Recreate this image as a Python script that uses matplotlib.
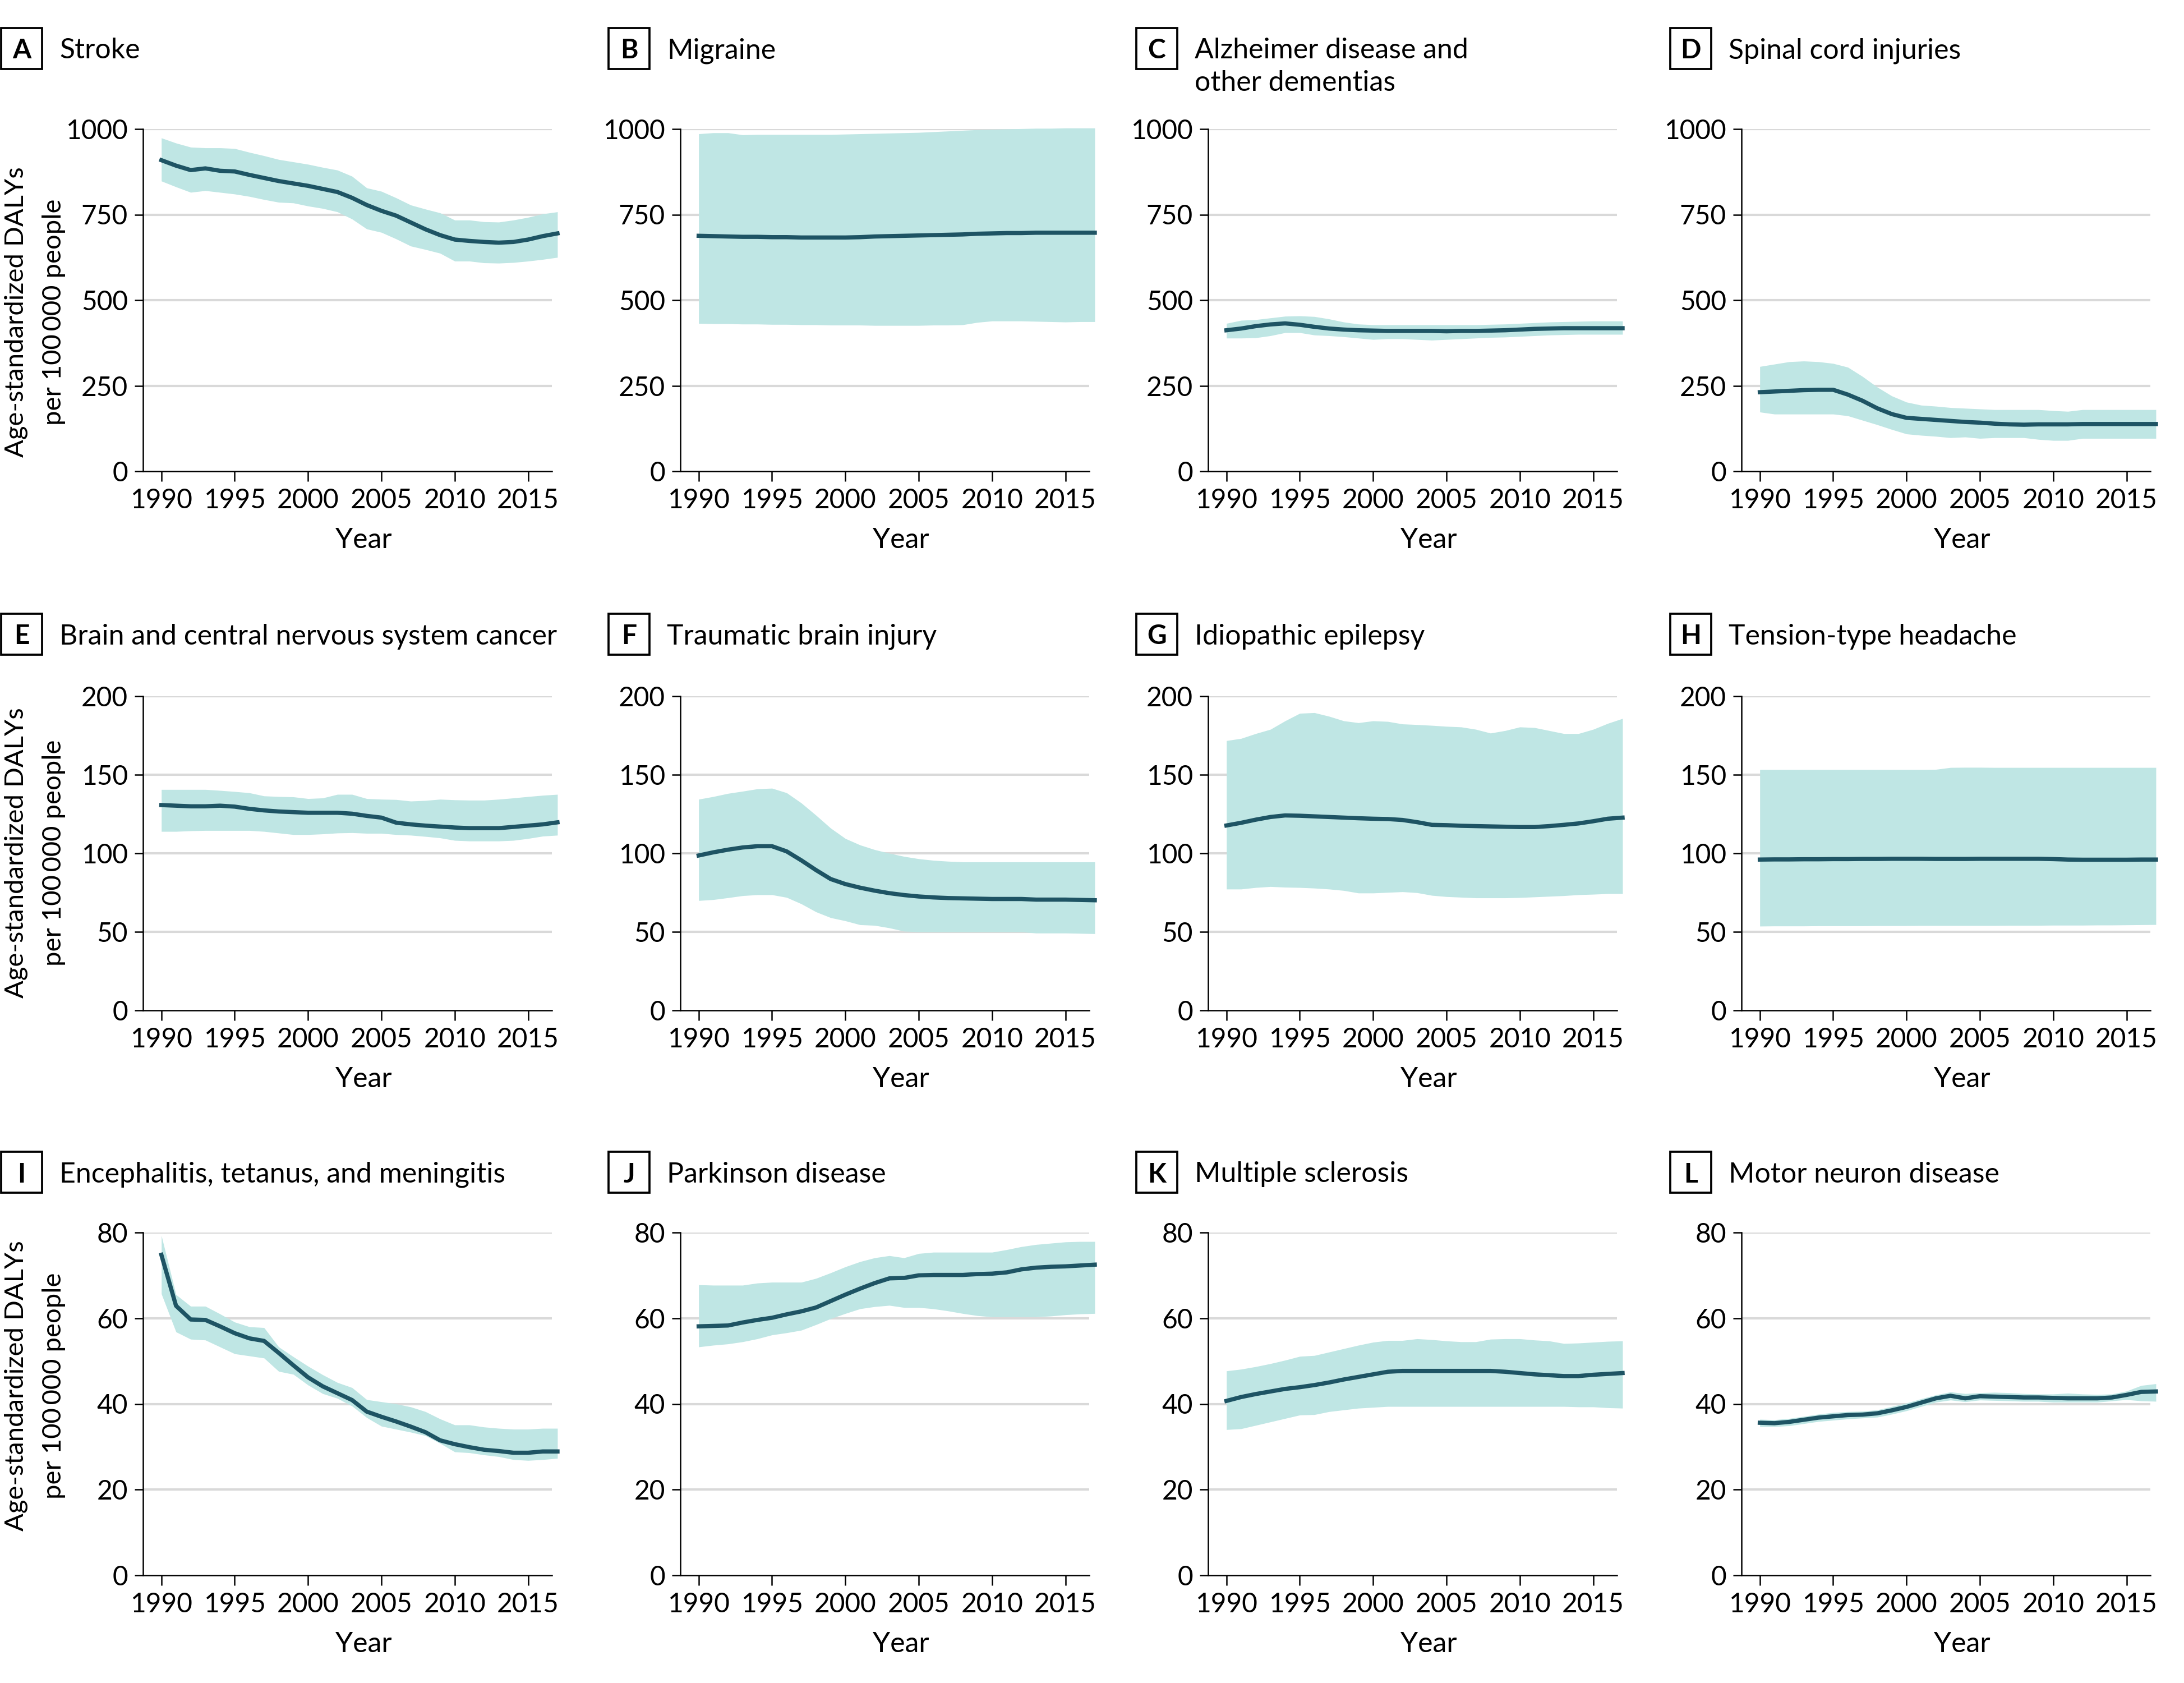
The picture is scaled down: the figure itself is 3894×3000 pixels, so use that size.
import numpy as np
import matplotlib
matplotlib.use("Agg")
import matplotlib.pyplot as plt
from matplotlib.patches import Rectangle

plt.rcParams['font.family'] = ['Lato', 'DejaVu Sans']

years = np.arange(1990, 2018)

# A Stroke
stroke_mean = [909, 893, 880, 885, 878, 876, 866, 857, 848, 841, 834, 825, 816, 799,
               778, 761, 747, 727, 707, 690, 677, 673, 670, 668, 670, 677, 687, 695]
stroke_high = [974, 959, 947, 945, 945, 943, 932, 922, 911, 904, 897, 888, 880, 862,
               828, 818, 799, 778, 766, 755, 734, 734, 729, 728, 734, 742, 752, 758]
stroke_low = [848, 831, 815, 820, 815, 810, 803, 794, 786, 784, 775, 768, 758, 737,
              708, 698, 679, 658, 648, 637, 614, 614, 609, 608, 610, 614, 619, 625]

# B Migraine
migraine_mean = [688, 687, 686, 685, 685, 684, 684, 683, 683, 683, 683, 684, 686, 687,
                 688, 689, 690, 691, 692, 694, 695, 696, 696, 697, 697, 697, 697, 697]
migraine_high = [986, 989, 989, 983, 984, 984, 984, 984, 984, 984, 985, 986, 987, 988,
                 989, 990, 992, 994, 996, 998, 999, 1000, 1001, 1002, 1002, 1003, 1003, 1003]
migraine_low = [432, 431, 431, 430, 430, 429, 429, 428, 428, 427, 427, 427, 426, 426,
                426, 426, 427, 427, 428, 435, 439, 439, 439, 438, 437, 436, 437, 437]

# C Alzheimer disease and other dementias
alz_mean = [412, 417, 424, 429, 432, 428, 422, 417, 414, 412, 411, 410, 410, 410,
            410, 409, 410, 410, 411, 412, 414, 416, 417, 418, 418, 418, 418, 418]
alz_high = [432, 441, 443, 448, 453, 454, 452, 445, 436, 430, 428, 428, 428, 428,
            428, 428, 428, 428, 429, 430, 432, 434, 436, 437, 438, 439, 439, 439]
alz_low = [389, 389, 390, 396, 405, 405, 398, 396, 393, 389, 385, 387, 387, 385,
           383, 385, 387, 389, 391, 392, 394, 396, 398, 399, 400, 400, 400, 400]

# D Spinal cord injuries
spinal_mean = [231, 233, 235, 237, 238, 238, 224, 206, 184, 167, 156, 153, 150, 147,
               144, 142, 139, 137, 136, 137, 137, 137, 138, 138, 138, 138, 138, 138]
spinal_high = [306, 313, 320, 322, 320, 315, 304, 277, 246, 220, 202, 193, 190, 186,
               184, 182, 180, 180, 180, 180, 177, 175, 180, 180, 180, 180, 180, 180]
spinal_low = [173, 167, 167, 167, 167, 167, 162, 149, 136, 122, 109, 105, 102, 98,
              100, 96, 98, 98, 98, 93, 90, 90, 96, 96, 96, 96, 96, 96]

# E Brain and central nervous system cancer
cns_mean = [130.7, 130.3, 129.9, 129.9, 130.3, 129.7, 128.3, 127.3, 126.6, 126.2, 125.8, 125.8, 125.8, 125.2,
            123.8, 122.7, 119.5, 118.4, 117.6, 117.0, 116.4, 116.0, 116.0, 116.0, 116.8, 117.6, 118.4, 119.7]
cns_high = [140.6, 140.6, 140.6, 140.6, 140.0, 139.3, 138.5, 136.5, 136.1, 135.9, 134.8, 135.2, 137.5, 137.5,
            134.8, 134.4, 134.2, 133.2, 133.6, 134.4, 134.0, 133.8, 133.8, 134.4, 135.2, 136.1, 136.9, 137.5]
cns_low = [113.9, 113.9, 114.3, 114.5, 114.5, 114.5, 114.5, 113.9, 112.9, 111.9, 111.9, 112.3, 112.9, 113.1,
           112.7, 112.7, 111.9, 111.5, 110.7, 109.8, 108.2, 107.8, 107.8, 107.8, 108.2, 109.4, 110.9, 111.5]

# F Traumatic brain injury
tbi_mean = [98.6, 100.6, 102.3, 103.7, 104.5, 104.5, 101.2, 95.5, 89.3, 83.6, 80.4, 78.1, 76.2, 74.6,
            73.4, 72.5, 71.9, 71.5, 71.3, 71.1, 70.9, 70.9, 70.9, 70.5, 70.5, 70.5, 70.3, 70.1]
tbi_high = [134.4, 136.1, 138.1, 139.5, 141.0, 141.4, 138.5, 132.0, 124.2, 116.0, 109.4, 105.3, 102.3, 100.0,
            98.0, 96.5, 95.5, 94.9, 94.5, 94.5, 94.5, 94.5, 94.5, 94.5, 94.5, 94.5, 94.5, 94.5]
tbi_low = [69.9, 70.5, 71.7, 73.0, 73.6, 73.6, 71.9, 67.8, 62.7, 59.0, 57.0, 54.5, 54.1, 52.5,
           50.4, 50.0, 50.0, 50.0, 50.0, 50.0, 50.0, 50.0, 50.0, 49.2, 49.2, 49.2, 49.0, 48.8]

# G Idiopathic epilepsy
epilepsy_mean = [117.7, 119.4, 121.4, 123.1, 124.1, 123.9, 123.5, 123.1, 122.7, 122.3, 122.0, 121.8, 121.2, 119.8,
                 118.1, 117.9, 117.5, 117.3, 117.1, 116.9, 116.7, 116.7, 117.3, 118.1, 119.0, 120.4, 122.0, 122.7]
epilepsy_high = [171.7, 173.1, 176.2, 178.9, 184.3, 189.1, 189.5, 187.2, 184.3, 183.1, 184.3, 183.9, 182.3, 181.9,
                 181.4, 180.8, 180.4, 178.9, 176.5, 178.1, 180.4, 180.0, 178.1, 176.2, 176.2, 178.9, 182.7, 185.8]
epilepsy_low = [77.2, 77.2, 78.2, 78.8, 78.4, 78.2, 77.8, 77.2, 76.3, 74.7, 74.7, 75.1, 75.5, 74.9,
                73.2, 72.4, 72.0, 71.6, 71.6, 71.6, 71.8, 72.2, 72.6, 73.0, 73.6, 73.9, 74.3, 74.3]

# H Tension-type headache
tth_mean = [96.0, 96.1, 96.1, 96.2, 96.2, 96.3, 96.3, 96.4, 96.4, 96.5, 96.5, 96.5, 96.4, 96.4,
            96.4, 96.5, 96.5, 96.5, 96.5, 96.5, 96.3, 96.0, 95.9, 95.9, 95.9, 95.9, 96.0, 96.0]
tth_high = [153.3, 153.3, 153.3, 153.3, 153.3, 153.3, 153.3, 153.3, 153.3, 153.3, 153.3, 153.3, 153.4, 154.6,
            154.7, 154.7, 154.6, 154.6, 154.6, 154.6, 154.6, 154.6, 154.6, 154.6, 154.6, 154.6, 154.6, 154.6]
tth_low = [53.6, 53.7, 53.7, 53.7, 53.8, 53.8, 53.8, 53.8, 53.9, 53.9, 53.9, 54.0, 54.0, 54.0,
           54.0, 54.0, 54.0, 54.1, 54.1, 54.1, 54.2, 54.2, 54.2, 54.3, 54.3, 54.4, 54.5, 54.6]

# I Encephalitis, tetanus, and meningitis
enceph_mean = [74.8, 62.9, 59.7, 59.6, 58.1, 56.5, 55.3, 54.7, 51.9, 49.0, 46.2, 44.1, 42.5, 40.9,
               38.2, 37.0, 35.9, 34.7, 33.4, 31.5, 30.6, 29.9, 29.3, 29.0, 28.6, 28.6, 28.9, 28.9]
enceph_high = [79.3, 65.5, 62.8, 62.8, 61.0, 59.1, 58.0, 57.8, 53.3, 51.0, 48.8, 46.8, 45.0, 43.8,
               41.0, 40.5, 40.0, 39.3, 38.2, 36.5, 35.1, 35.1, 34.6, 34.3, 34.1, 34.1, 34.3, 34.3]
enceph_low = [65.7, 56.8, 55.1, 54.9, 53.3, 51.7, 51.2, 50.7, 47.6, 46.9, 44.4, 42.4, 41.3, 39.5,
              36.8, 34.8, 34.1, 33.4, 32.6, 30.8, 28.8, 28.6, 28.1, 27.7, 27.0, 26.8, 27.0, 27.3]

# J Parkinson disease
parkinson_mean = [58.1, 58.2, 58.3, 59.0, 59.6, 60.1, 60.9, 61.6, 62.5, 64.0, 65.5, 66.9, 68.2, 69.3,
                  69.4, 70.0, 70.1, 70.1, 70.1, 70.3, 70.4, 70.7, 71.4, 71.8, 72.0, 72.1, 72.3, 72.5]
parkinson_high = [67.8, 67.7, 67.7, 67.7, 68.2, 68.4, 68.4, 68.4, 69.3, 70.6, 72.0, 73.2, 74.1, 74.6,
                  74.1, 75.1, 75.4, 75.4, 75.4, 75.4, 75.4, 76.0, 76.7, 77.2, 77.5, 77.8, 77.9, 77.9]
parkinson_low = [53.3, 53.7, 54.0, 54.5, 55.2, 56.1, 56.6, 57.2, 58.5, 59.9, 61.1, 62.2, 62.7, 63.0,
                 62.5, 62.5, 62.2, 61.7, 61.1, 60.6, 60.3, 60.3, 60.3, 60.3, 60.5, 60.8, 61.0, 61.1]

# K Multiple sclerosis
ms_mean = [40.7, 41.6, 42.3, 42.9, 43.5, 43.9, 44.4, 45.0, 45.7, 46.3, 46.9, 47.5, 47.7, 47.7,
           47.7, 47.7, 47.7, 47.7, 47.7, 47.5, 47.2, 46.9, 46.7, 46.5, 46.5, 46.8, 47.0, 47.2]
ms_high = [47.7, 48.1, 48.7, 49.4, 50.2, 51.1, 51.3, 52.1, 52.9, 53.7, 54.4, 54.8, 54.8, 55.2,
           55.0, 54.7, 54.5, 54.5, 55.1, 55.2, 55.2, 54.9, 54.7, 54.1, 54.2, 54.4, 54.6, 54.7]
ms_low = [34.0, 34.2, 35.0, 35.8, 36.6, 37.4, 37.5, 38.2, 38.6, 39.0, 39.2, 39.4, 39.4, 39.4,
          39.4, 39.4, 39.4, 39.4, 39.4, 39.4, 39.4, 39.4, 39.4, 39.4, 39.3, 39.3, 39.1, 39.0]

# L Motor neuron disease
mnd_mean = [35.6, 35.5, 35.8, 36.3, 36.8, 37.1, 37.4, 37.5, 37.8, 38.5, 39.3, 40.3, 41.3, 41.9,
            41.3, 41.8, 41.7, 41.6, 41.5, 41.5, 41.4, 41.3, 41.3, 41.3, 41.5, 42.1, 42.8, 42.9]
mnd_high = [36.4, 36.3, 36.6, 37.1, 37.6, 38.0, 38.2, 38.3, 38.6, 39.4, 40.2, 41.2, 42.1, 42.8,
            42.4, 42.6, 42.7, 42.6, 42.4, 42.3, 42.3, 42.5, 42.3, 42.2, 42.3, 43.0, 44.3, 44.7]
mnd_low = [34.7, 34.7, 34.9, 35.4, 35.9, 36.2, 36.5, 36.7, 36.9, 37.6, 38.4, 39.4, 40.4, 40.9,
           40.5, 40.9, 40.8, 40.7, 40.6, 40.6, 40.4, 40.4, 40.4, 40.4, 40.7, 41.0, 40.7, 40.6]

letters = list("ABCDEFGHIJKL")
titles = ["Stroke", "Migraine", "Alzheimer disease and\nother dementias", "Spinal cord injuries",
          "Brain and central nervous system cancer", "Traumatic brain injury",
          "Idiopathic epilepsy", "Tension-type headache",
          "Encephalitis, tetanus, and meningitis", "Parkinson disease",
          "Multiple sclerosis", "Motor neuron disease"]
series = [
    (stroke_mean, stroke_low, stroke_high), (migraine_mean, migraine_low, migraine_high),
    (alz_mean, alz_low, alz_high), (spinal_mean, spinal_low, spinal_high),
    (cns_mean, cns_low, cns_high), (tbi_mean, tbi_low, tbi_high),
    (epilepsy_mean, epilepsy_low, epilepsy_high), (tth_mean, tth_low, tth_high),
    (enceph_mean, enceph_low, enceph_high), (parkinson_mean, parkinson_low, parkinson_high),
    (ms_mean, ms_low, ms_high), (mnd_mean, mnd_low, mnd_high),
]
row_yticks = [[0, 250, 500, 750, 1000], [0, 50, 100, 150, 200], [0, 20, 40, 60, 80]]
year_ticks = [1990, 1995, 2000, 2005, 2010, 2015]

LINE = "#1e5464"
BAND = "#bfe6e4"
GRID = "#d9d9d9"

# layout in pixels of the 3894 x 3000 output
W, H, DPI = 3894, 3000, 300
col_left = [255, 1213, 2154, 3105]
ax_width = 729
row_span = [(230, 840), (1241, 1801), (2197, 2808)]
box_left = [2, 1085, 2026, 2978]
box_top = [50, 1094, 2053]
box_size = 73
ylabel_mid = [556, 1520, 2470]

fig = plt.figure(figsize=(W / DPI, H / DPI), dpi=DPI)


def fx(px):
    return px / W


def fy(py):
    return 1 - py / H


for i, (mean, low, high) in enumerate(series):
    r, c = divmod(i, 4)
    top, bottom = row_span[r]
    ax = fig.add_axes([fx(col_left[c]), fy(bottom), ax_width / W, (bottom - top) / H])
    yt = row_yticks[r]
    for t in yt[1:]:
        ax.axhline(t, color=GRID, lw=1.0, zorder=1)
    ax.fill_between(years, low, high, color=BAND, lw=0, zorder=2, clip_on=False)
    ax.plot(years, mean, color=LINE, lw=1.8, zorder=3, clip_on=False)
    ax.set_xlim(1988.75, 2016.62)
    ax.set_ylim(0, yt[-1])
    ax.set_yticks(yt)
    ax.set_xticks(year_ticks)
    for s in ["top", "right"]:
        ax.spines[s].set_visible(False)
    for s in ["left", "bottom"]:
        ax.spines[s].set_linewidth(0.6)
        ax.spines[s].set_zorder(4)
    ax.tick_params(axis="both", direction="out", width=0.6, labelsize=11.5, pad=3)
    ax.tick_params(axis="y", length=3.5)
    ax.tick_params(axis="x", length=4.3)
    ax.set_xlabel("Year", fontsize=12)
    ax.xaxis.set_label_coords(0.54, -100 / (bottom - top))

    # panel letter box and title
    bl, bt = box_left[c], box_top[r]
    fig.add_artist(Rectangle((fx(bl), fy(bt + box_size)), box_size / W, box_size / H,
                             transform=fig.transFigure, fill=False, lw=0.9, ec="black"))
    base = bt + box_size / 2 + 18
    fig.text(fx(bl + box_size / 2), fy(base), letters[i], ha="center", va="baseline",
             fontsize=11.5, fontweight="bold")
    for k, line in enumerate(titles[i].split("\n")):
        fig.text(fx(bl + 104), fy(base + 57 * k), line, ha="left", va="baseline", fontsize=12)

    if c == 0:
        fig.text(fx(29), fy(ylabel_mid[r]), "Age-standardized DALYs", rotation=90,
                 ha="center", va="center", fontsize=11.3)
        fig.text(fx(96), fy(ylabel_mid[r]), "per 100\u2009000 people", rotation=90,
                 ha="center", va="center", fontsize=11.3)

fig.savefig("out.png", dpi=DPI)
